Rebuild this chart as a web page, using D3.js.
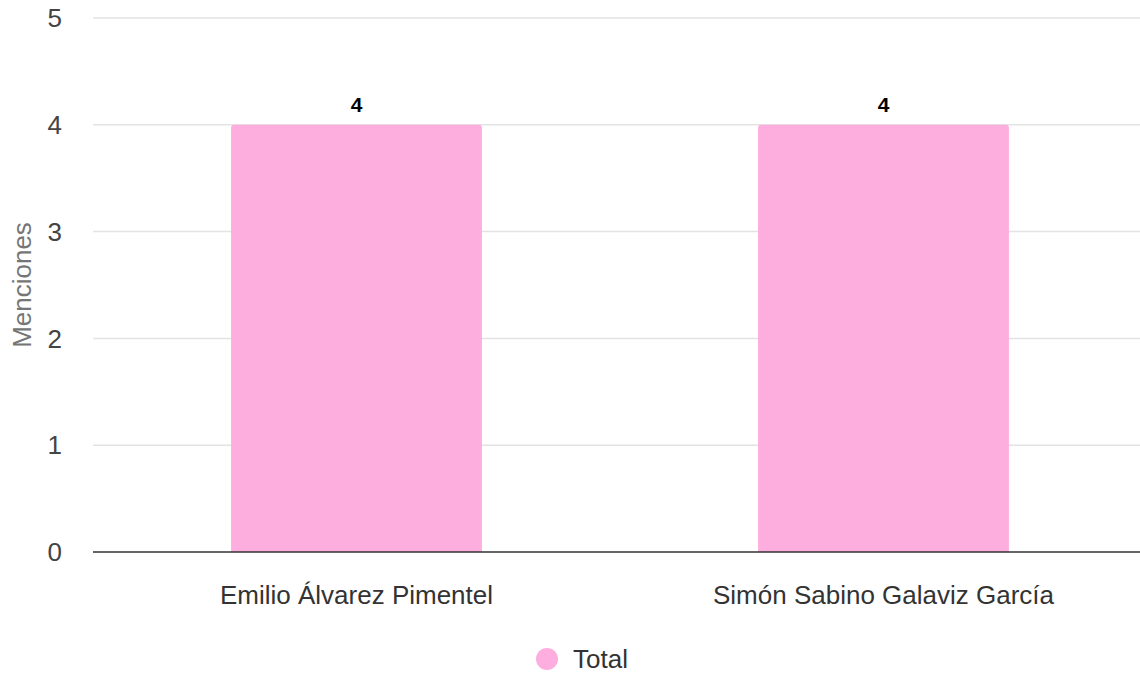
<!DOCTYPE html>
<html><head><meta charset="utf-8">
<script src="https://cdn.jsdelivr.net/npm/d3@7"></script>
<style>body{margin:0;background:#fff}svg{display:block}text{font-family:"Liberation Sans",Arial,sans-serif}</style>
</head><body>
<script>
const categories = ["Emilio Álvarez Pimentel", "Simón Sabino Galaviz García"];
const totals = [4, 4];
const yTicks = [0, 1, 2, 3, 4, 5];
const seriesName = "Total";
const yTitle = "Menciones";

const W = 1140, H = 673;
const svg = d3.select("body").append("svg").attr("width", W).attr("height", H);
const x = d3.scaleBand().domain(categories).range([93, 1147]).padding(0);
const y = d3.scaleLinear().domain([0, 5]).range([552, 18]);
const color = "#fdaedf";

// grid
svg.append("g").selectAll("line").data(yTicks.filter(d => d > 0)).join("line")
  .attr("x1", 93).attr("x2", W).attr("y1", d => y(d)).attr("y2", d => y(d))
  .attr("stroke", "#e3e3e3").attr("stroke-width", 1.5);

// y tick labels
svg.append("g").selectAll("text").data(yTicks).join("text")
  .attr("x", 62).attr("y", d => y(d)).attr("dy", "0.35em").attr("text-anchor", "end")
  .attr("font-size", 26).attr("fill", "#444").text(d => d);

// bars
const bw = x.bandwidth() * 0.476;
const r = 3;
svg.append("g").selectAll("path").data(categories).join("path")
  .attr("d", (c, i) => {
    const cx = x(c) + x.bandwidth() / 2, x0 = cx - bw / 2, x1 = cx + bw / 2;
    const yt = y(totals[i]), yb = y(0);
    return `M${x0},${yb}V${yt + r}Q${x0},${yt} ${x0 + r},${yt}H${x1 - r}Q${x1},${yt} ${x1},${yt + r}V${yb}Z`;
  }).attr("fill", color);

// value labels
svg.append("g").selectAll("text").data(categories).join("text")
  .attr("x", c => x(c) + x.bandwidth() / 2).attr("y", (c, i) => y(totals[i]) - 20.5)
  .attr("dy", "0.35em").attr("text-anchor", "middle").attr("font-size", 21)
  .attr("font-weight", "bold").attr("fill", "#000").text((c, i) => totals[i]);

// baseline
svg.append("line").attr("x1", 93).attr("x2", W).attr("y1", y(0)).attr("y2", y(0))
  .attr("stroke", "#333").attr("stroke-width", 1.5);

// x labels
svg.append("g").selectAll("text").data(categories).join("text")
  .attr("x", c => x(c) + x.bandwidth() / 2).attr("y", 595).attr("dy", "0.35em")
  .attr("text-anchor", "middle").attr("font-size", 26).attr("fill", "#333").text(c => c);

// y title
svg.append("text").attr("transform", "translate(22,285) rotate(-90)")
  .attr("dy", "0.35em").attr("text-anchor", "middle").attr("font-size", 26)
  .attr("fill", "#757575").text(yTitle);

// legend
const lg = svg.append("g").attr("transform", "translate(547,659)");
lg.append("circle").attr("r", 11).attr("fill", color);
lg.append("text").attr("x", 26).attr("dy", "0.35em").attr("font-size", 26).attr("fill", "#333").text(seriesName);
</script>
</body></html>
